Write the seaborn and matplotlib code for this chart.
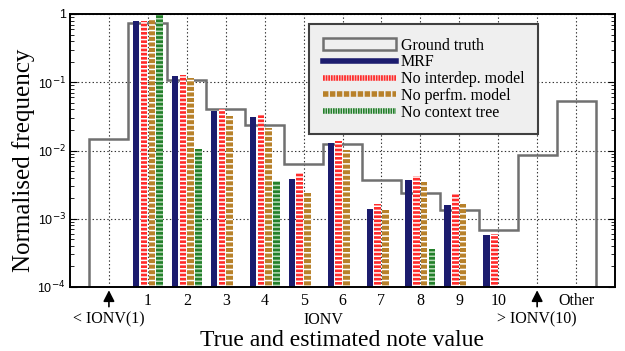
import numpy as np
import pandas as pd
import matplotlib
matplotlib.use("Agg")
import matplotlib.pyplot as plt
import seaborn as sns
from matplotlib.lines import Line2D
from matplotlib.patches import Patch

# ---------------- data ----------------
positions = list(range(13))
tick_labels = ["", "1", "2", "3", "4", "5", "6", "7", "8", "9", "10", "", "Other"]
ground_truth = [0.0147, 0.746, 0.108, 0.0405, 0.0236, 0.00627, 0.0125,
                0.0037, 0.00236, 0.00134, 0.000684, 0.0085, 0.0537]
note_values = [1, 2, 3, 4, 5, 6, 7, 8, 9, 10]
mrf = [0.79, 0.1235, 0.0379, 0.031, 0.00378, 0.013, 0.00139, 0.00366, 0.00159, 0.000572]
no_interdep = [0.80, 0.128, 0.040, 0.0331, 0.00464, 0.0138, 0.00164, 0.00423, 0.00231, 0.000598]
no_perfm = [0.817, 0.114, 0.032, 0.0216, 0.00241, 0.0102, 0.00134, 0.00342, 0.00164, np.nan]
no_context = [0.97, 0.0105, np.nan, 0.00357, np.nan, np.nan, np.nan, 0.00036, np.nan, np.nan]
models = ["MRF", "No interdep. model", "No perfm. model", "No context tree"]

# ---------------- style ----------------
plt.rcParams["font.family"] = ["Liberation Serif", "DejaVu Serif"]
plt.rcParams["hatch.linewidth"] = 1.1
plt.rcParams["lines.scale_dashes"] = False

colors = {"MRF": "#1c1c6e", "No interdep. model": "#ff2b2b",
          "No perfm. model": "#b8812a", "No context tree": "#23802a"}
hatch_style = {"MRF": (None, None),
               "No interdep. model": ("----", "white"),
               "No perfm. model": ("---", "white"),
               "No context tree": ("----", "#b8dab8")}

df = pd.DataFrame({
    "note": note_values * 4,
    "freq": mrf + no_interdep + no_perfm + no_context,
    "model": sum([[m] * len(note_values) for m in models], []),
}).dropna()

fig = plt.figure(figsize=(6.25, 3.51), dpi=100)
ax = fig.add_axes([70 / 625, 1 - 287 / 351, 545 / 625, 273 / 351])

# ground truth outline (behind bars)
ax.stairs(ground_truth, edges=np.arange(-0.5, 13.0, 1.0), baseline=1e-4,
          fill=False, color="#707070", lw=1.8, zorder=1.5)

sns.barplot(data=df, x="note", y="freq", hue="model", hue_order=models,
            palette=colors, native_scale=True, width=0.8, gap=0.17,
            errorbar=None, legend=False, saturation=1, linewidth=0, ax=ax)

for cont, m in zip(ax.containers, models):
    h, hc = hatch_style[m]
    for bar in cont:
        bar.set_zorder(2)
        bar.set_linewidth(0)
        if h is not None:
            bar.set_edgecolor(hc)
            bar.set_hatch(h)

ax.set_yscale("log")
ax.set_ylim(1e-4, 1)
ax.set_xlim(-1, 13)
ax.set_xticks(positions)
ax.set_xticklabels(tick_labels, fontsize=11.5)
ax.tick_params(axis="x", length=0, pad=4)

ax.set_yticks([1e-4, 1e-3, 1e-2, 1e-1, 1])
ax.set_yticklabels([r"10$^{-4}$", r"10$^{-3}$", r"10$^{-2}$", r"10$^{-1}$", "1"],
                   family=["Liberation Sans", "DejaVu Sans"], fontsize=9)
ax.tick_params(axis="y", which="both", direction="in", left=True, right=True, pad=3)
ax.tick_params(axis="y", which="major", length=5, width=0.8)
ax.tick_params(axis="y", which="minor", length=3, width=0.6)

ax.grid(True, which="major", axis="both", linestyle=":", color="#333333", lw=0.8)
ax.set_axisbelow(True)
for s in ax.spines.values():
    s.set_linewidth(1.4)
    s.set_color("black")

# arrows and second-row labels
tr = ax.get_xaxis_transform()
for xp in (0, 11):
    ax.annotate("", xy=(xp, -0.012), xytext=(xp, -0.072), xycoords=tr, textcoords=tr,
                arrowprops=dict(arrowstyle="-|>,head_length=0.55,head_width=0.28",
                                color="black", lw=1.2, mutation_scale=12,
                                shrinkA=0, shrinkB=0),
                annotation_clip=False)
ax.text(0, -0.12, "< IONV(1)", transform=tr, ha="center", va="center", fontsize=11.5)
ax.text(5.5, -0.12, "IONV", transform=tr, ha="center", va="center", fontsize=11.5)
ax.text(11, -0.12, "> IONV(10)", transform=tr, ha="center", va="center", fontsize=11.5)

ax.set_xlabel("True and estimated note value", fontsize=17)
ax.xaxis.set_label_coords(0.5, -0.158)
ax.set_ylabel("Normalised frequency", fontsize=18)
ax.yaxis.set_label_coords(-0.064, 0.465)

# legend
handles = [
    Patch(facecolor="#efefef", edgecolor="#707070", lw=1.8),
    Line2D([], [], color=colors["MRF"], lw=4),
    Line2D([], [], color=colors["No interdep. model"], lw=4, dashes=(1.3, 0.6)),
    Line2D([], [], color=colors["No perfm. model"], lw=4, dashes=(3.9, 1.1)),
    Line2D([], [], color=colors["No context tree"], lw=4, dashes=(1.2, 0.6)),
]
labels = ["Ground truth"] + models
leg = ax.legend(handles, labels, loc="upper left", bbox_to_anchor=(0.4385, 0.963),
                borderaxespad=0, fontsize=11.5, handlelength=4.6, handletextpad=0.3,
                labelspacing=0.05, borderpad=0.85, fancybox=False, framealpha=1,
                facecolor="#efefef", edgecolor="#404040")
leg.get_frame().set_linewidth(1.5)
leg.set_zorder(5)

fig.savefig("out.png", dpi=100)
